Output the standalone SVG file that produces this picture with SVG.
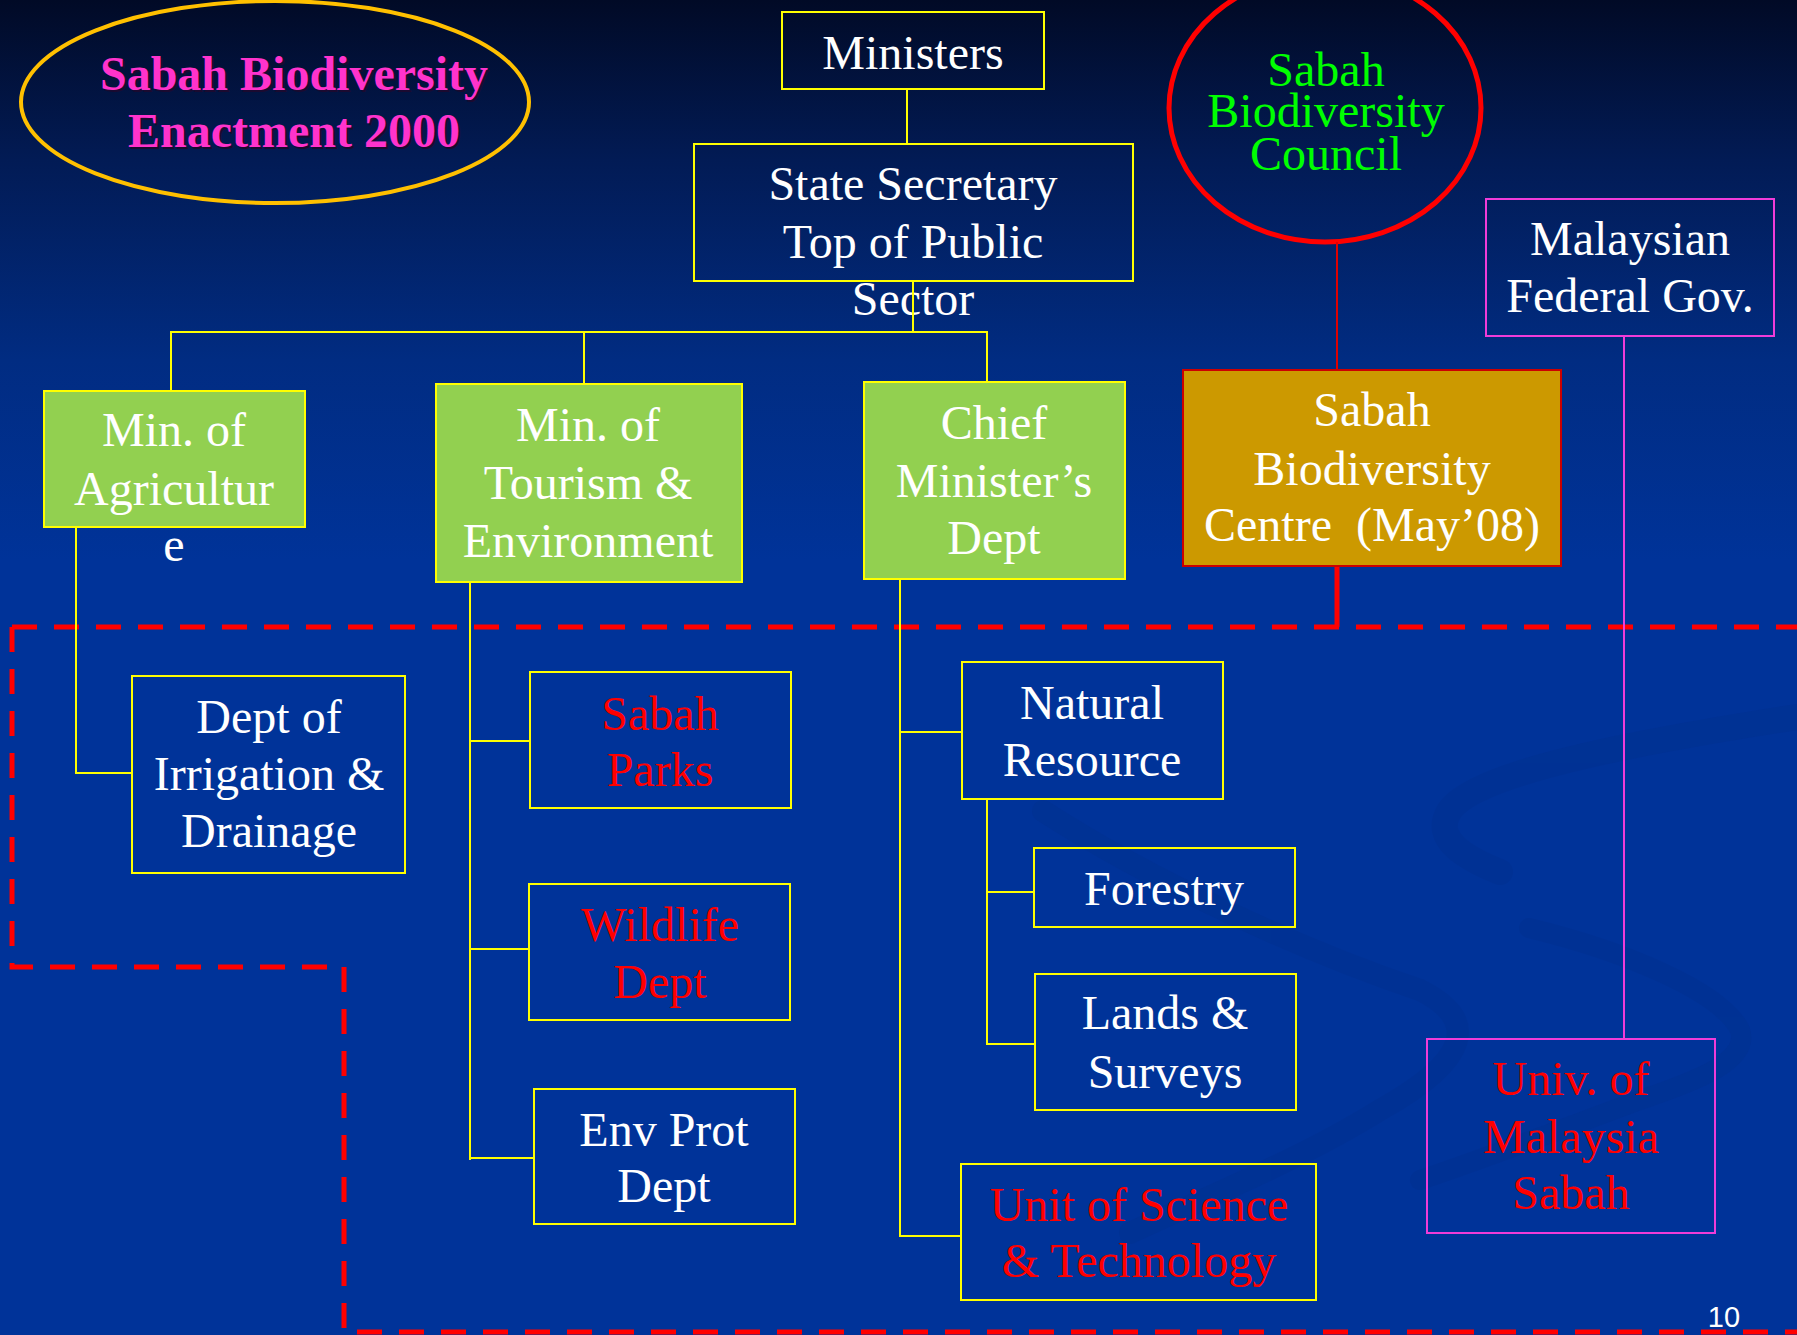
<svg xmlns="http://www.w3.org/2000/svg" width="1797" height="1335" viewBox="0 0 1797 1335">
<defs>
<linearGradient id="bg" x1="0" y1="0" x2="0" y2="1335" gradientUnits="userSpaceOnUse">
<stop offset="0" stop-color="#010A26"/>
<stop offset="0.12" stop-color="#021B55"/>
<stop offset="0.27" stop-color="#012C82"/>
<stop offset="0.42" stop-color="#003399"/>
<stop offset="1" stop-color="#003399"/>
</linearGradient>
<style>
.t{font-family:"Liberation Serif","Times New Roman",serif;font-size:48px;text-anchor:middle}
.b{font-weight:bold}
.w{fill:#FFFFFF}
.r{fill:#FF0000}
.g{fill:#00FF00}
.m{fill:#FF33CC}
.sh{fill:#1A0A30}
.box{fill:none;stroke:#FFFF00;stroke-width:2}
.gbox{fill:#92D050;stroke:#FFFF00;stroke-width:2}
.ln{stroke:#FFFF00;stroke-width:2;fill:none}
.dash{stroke:#FF0000;stroke-width:5;fill:none;stroke-dasharray:25 17}
.sw{fill:none;stroke:#00308F;stroke-linecap:round}
</style>
</defs>
<rect x="0" y="0" width="1797" height="1335" fill="url(#bg)"/>

<g id="watermark" opacity="0.45">
<path class="sw" stroke-width="26" d="M1797,717 C1650,740 1480,770 1450,810 C1430,840 1470,860 1500,872"/>
<path class="sw" stroke-width="22" d="M1043,811 C1150,880 1300,950 1420,990 C1480,1020 1470,1060 1380,1110 C1300,1160 1200,1200 1130,1233"/>
<path class="sw" stroke-width="20" d="M1529,928 C1620,950 1720,990 1740,1030 C1750,1060 1700,1080 1640,1100 C1560,1130 1480,1160 1420,1180"/>
</g>

<g id="boundary">
<path class="dash" d="M12,627 H1797"/>
<path class="dash" d="M12,627 V967 H344 V1332 H1797"/>
</g>

<g id="n_enactment">
<ellipse cx="275" cy="102" rx="254" ry="101" fill="none" stroke="#FFC000" stroke-width="4"/>
<text class="t b sh" x="296" y="92">Sabah Biodiversity</text>
<text class="t b sh" x="296" y="149">Enactment 2000</text>
<text class="t b m" x="294" y="90">Sabah Biodiversity</text>
<text class="t b m" x="294" y="147">Enactment 2000</text>
</g>

<g id="n_council">
<ellipse cx="1325" cy="108" rx="156" ry="134" fill="none" stroke="#FF0000" stroke-width="5"/>
<text class="t g" x="1326" y="86">Sabah</text>
<text class="t g" x="1326" y="127">Biodiversity</text>
<text class="t g" x="1326" y="170">Council</text>
</g>

<g id="connectors">
<path class="ln" d="M907,89 V144"/>
<path class="ln" d="M171,391 V332 H987 V382"/>
<path class="ln" d="M584,332 V384"/>
<path class="ln" d="M76,527 V773 H132"/>
<path class="ln" d="M470,582 V1160"/>
<path class="ln" d="M470,741 H530"/>
<path class="ln" d="M470,949 H529"/>
<path class="ln" d="M470,1158 H534"/>
<path class="ln" d="M900,579 V1236 H961"/>
<path class="ln" d="M900,732 H962"/>
<path class="ln" d="M987,799 V1044 H1035"/>
<path class="ln" d="M987,892 H1034"/>
<path d="M1337,242 V370" stroke="#E00000" stroke-width="2" fill="none"/>
<path d="M1337,566 V627" stroke="#FF0000" stroke-width="5" fill="none"/>
<path d="M1624,336 V1039" stroke="#F03CD8" stroke-width="2" fill="none"/>
</g>

<g id="n_ministers">
<rect class="box" x="782" y="12" width="262" height="77"/>
<text class="t w" x="913" y="69">Ministers</text>
</g>

<g id="n_secretary">
<rect class="box" x="694" y="144" width="439" height="137"/>
<text class="t w" x="913" y="200">State Secretary</text>
<text class="t w" x="913" y="258">Top of Public</text>
<text class="t w" x="913" y="315">Sector</text>
</g>
<path d="M913,281 V332" stroke="#FFFF00" stroke-width="2"/>

<g id="n_agriculture">
<rect class="gbox" x="44" y="391" width="261" height="136"/>
<text class="t w" x="174" y="446">Min. of</text>
<text class="t w" x="174" y="505">Agricultur</text>
<text class="t w" x="174" y="561">e</text>
</g>

<g id="n_tourism">
<rect class="gbox" x="436" y="384" width="306" height="198"/>
<text class="t w" x="588" y="441">Min. of</text>
<text class="t w" x="588" y="499">Tourism &amp;</text>
<text class="t w" x="588" y="557">Environment</text>
</g>

<g id="n_chief">
<rect class="gbox" x="864" y="382" width="261" height="197"/>
<text class="t w" x="994" y="439">Chief</text>
<text class="t w" x="994" y="497">Minister’s</text>
<text class="t w" x="994" y="554">Dept</text>
</g>

<g id="n_centre">
<rect x="1183" y="370" width="378" height="196" fill="#CC9900" stroke="#CC0000" stroke-width="2"/>
<text class="t w" x="1372" y="426">Sabah</text>
<text class="t w" x="1372" y="485">Biodiversity</text>
<text class="t w" x="1372" y="541" xml:space="preserve">Centre  (May’08)</text>
</g>

<g id="n_federal">
<rect x="1486" y="199" width="288" height="137" fill="none" stroke="#F03CD8" stroke-width="2"/>
<text class="t w" x="1630" y="255">Malaysian</text>
<text class="t w" x="1630" y="312">Federal Gov.</text>
</g>

<g id="n_irrigation">
<rect class="box" x="132" y="676" width="273" height="197"/>
<text class="t w" x="269" y="733">Dept of</text>
<text class="t w" x="269" y="790">Irrigation &amp;</text>
<text class="t w" x="269" y="847">Drainage</text>
</g>

<g id="n_parks">
<rect class="box" x="530" y="672" width="261" height="136"/>
<text class="t r" x="660" y="730">Sabah</text>
<text class="t r" x="660" y="786">Parks</text>
</g>

<g id="n_wildlife">
<rect class="box" x="529" y="884" width="261" height="136"/>
<text class="t r" x="660" y="941">Wildlife</text>
<text class="t r" x="660" y="998">Dept</text>
</g>

<g id="n_envprot">
<rect class="box" x="534" y="1089" width="261" height="135"/>
<text class="t w" x="664" y="1146">Env Prot</text>
<text class="t w" x="664" y="1202">Dept</text>
</g>

<g id="n_natural">
<rect class="box" x="962" y="662" width="261" height="137"/>
<text class="t w" x="1092" y="719">Natural</text>
<text class="t w" x="1092" y="776">Resource</text>
</g>

<g id="n_forestry">
<rect class="box" x="1034" y="848" width="261" height="79"/>
<text class="t w" x="1164" y="905">Forestry</text>
</g>

<g id="n_lands">
<rect class="box" x="1035" y="974" width="261" height="136"/>
<text class="t w" x="1165" y="1029">Lands &amp;</text>
<text class="t w" x="1165" y="1088">Surveys</text>
</g>

<g id="n_unit">
<rect class="box" x="961" y="1164" width="355" height="136"/>
<text class="t r" x="1139" y="1221">Unit of Science</text>
<text class="t r" x="1139" y="1277">&amp; Technology</text>
</g>

<g id="n_univ">
<rect x="1427" y="1039" width="288" height="194" fill="none" stroke="#F03CD8" stroke-width="2"/>
<text class="t r" x="1571" y="1095">Univ. of</text>
<text class="t r" x="1571" y="1153">Malaysia</text>
<text class="t r" x="1571" y="1209">Sabah</text>
</g>

<text x="1724" y="1327" font-family="Liberation Sans, Arial, sans-serif" font-size="29" fill="#FFFFFF" text-anchor="middle">10</text>
</svg>
